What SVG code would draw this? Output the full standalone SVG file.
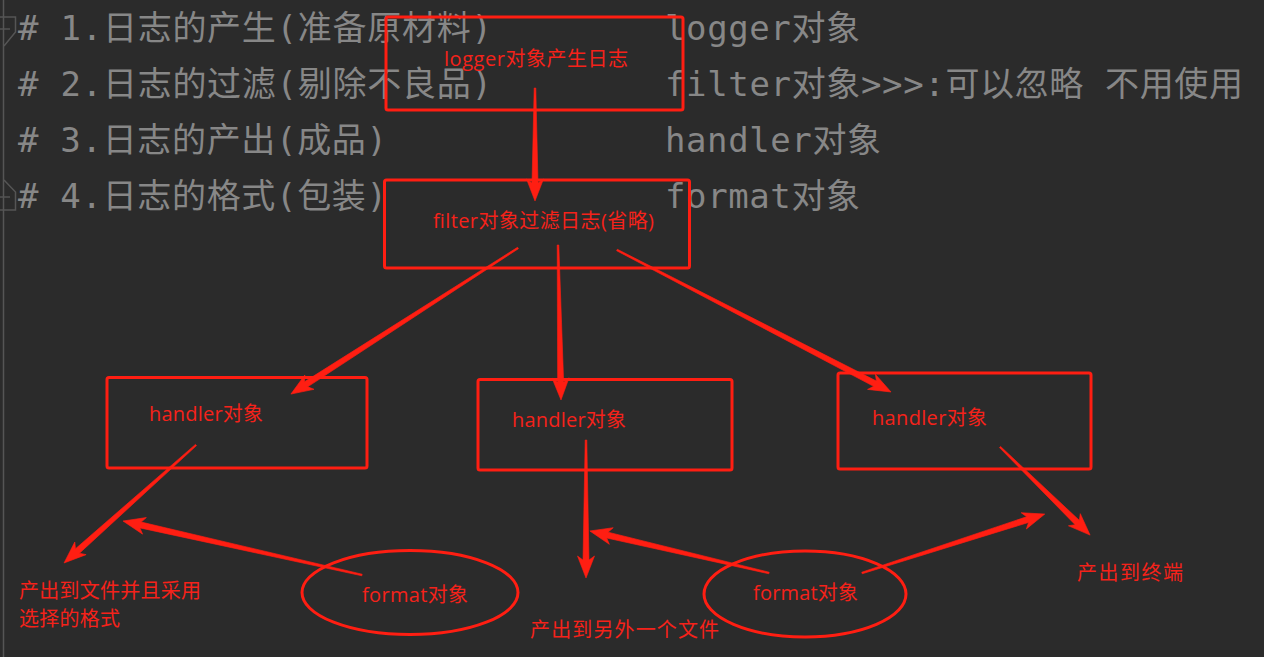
<svg xmlns="http://www.w3.org/2000/svg" width="1264" height="657" viewBox="0 0 1264 657">
<style>
.code{font-family:"DejaVu Sans Mono","Noto Sans CJK SC",monospace;font-size:34px;fill:#878787}
.lbl{font-family:"Open Sans","Noto Sans CJK SC",sans-serif;font-size:20px;fill:#f5221a}
.box{fill:none;stroke:#ff1e12;stroke-width:3}
.arr{fill:#ff1e12;stroke:#ff1e12;stroke-width:0.6;stroke-linejoin:round}
.gut{fill:none;stroke:#555;stroke-width:1.5}
</style>
<rect x="0" y="0" width="1264" height="657" fill="#2b2b2b"/>
<g id="gutter">
<line class="gut" x1="3.5" y1="0" x2="3.5" y2="657"/>
<path class="gut" d="M0,17 H15.5 V32 L4,46"/>
<line class="gut" x1="0" y1="29" x2="10" y2="29"/>
<path class="gut" d="M4,180 L15.5,192 V210 H0"/>
<line class="gut" x1="0" y1="197" x2="10" y2="197"/>
</g>
<g id="code">
<text class="code" x="18" y="40" textLength="474">
# 1.日志的产生(准备原材料)</text>
<text class="code" x="18" y="96" textLength="474">
# 2.日志的过滤(剔除不良品)</text>
<text class="code" x="18" y="152" textLength="369">
# 3.日志的产出(成品)</text>
<text class="code" x="18" y="208" textLength="369">
# 4.日志的格式(包装)</text>
<text class="code" x="665" y="40" textLength="195">logger对象</text>
<text class="code" x="665" y="96" textLength="578">filter对象&gt;&gt;&gt;:可以忽略 不用使用</text>
<text class="code" x="665" y="152" textLength="216">handler对象</text>
<text class="code" x="665" y="208" textLength="195">format对象</text>
</g>
<g id="connectors">
<path class="arr" transform="translate(535,88) rotate(90)" d="M0,-0.8 L95,-3 L91,-8.5 L113,0 L91,8.5 L95,3 L0,0.8 Z"/>
<path class="arr" transform="translate(518,248) rotate(147.25)" d="M0,-0.8 L252,-3 L248,-8.5 L270,0 L248,8.5 L252,3 L0,0.8 Z"/>
<path class="arr" transform="translate(558,245) rotate(88.89)" d="M0,-0.8 L137,-3 L133,-8.5 L155,0 L133,8.5 L137,3 L0,0.8 Z"/>
<path class="arr" transform="translate(617,250) rotate(27.39)" d="M0,-0.8 L290.6,-3 L286.6,-8.5 L308.6,0 L286.6,8.5 L290.6,3 L0,0.8 Z"/>
<path class="arr" transform="translate(196,445) rotate(138.2)" d="M0,-0.8 L159,-3 L155,-8.5 L177,0 L155,8.5 L159,3 L0,0.8 Z"/>
<path class="arr" transform="translate(586,440) rotate(90)" d="M0,-0.8 L120,-3 L116,-8.5 L138,0 L116,8.5 L120,3 L0,0.8 Z"/>
<path class="arr" transform="translate(1000,447) rotate(44.36)" d="M0,-0.8 L108,-3 L104,-8.5 L126,0 L104,8.5 L108,3 L0,0.8 Z"/>
<path class="arr" transform="translate(362,575) rotate(192.73)" d="M0,-0.8 L227,-3 L223,-8.5 L245,0 L223,8.5 L227,3 L0,0.8 Z"/>
<path class="arr" transform="translate(769,573) rotate(193.2)" d="M0,-0.8 L166,-3 L162,-8.5 L184,0 L162,8.5 L166,3 L0,0.8 Z"/>
<path class="arr" transform="translate(862,573) rotate(-17.87)" d="M0,-0.8 L174,-3 L170,-8.5 L192,0 L170,8.5 L174,3 L0,0.8 Z"/>
</g>
<g id="logger">
<rect class="box" x="386" y="17" width="297" height="93" rx="2"/>
<text class="lbl" x="444" y="66" textLength="184">logger对象产生日志</text>
</g>
<g id="filter">
<rect class="box" x="384.5" y="180" width="305" height="88" rx="2"/>
<text class="lbl" x="433" y="228" textLength="221">filter对象过滤日志(省略)</text>
</g>
<g id="handler1">
<rect class="box" x="107" y="377.5" width="260" height="90.5" rx="2"/>
<text class="lbl" x="149" y="421" textLength="114">handler对象</text>
</g>
<g id="handler2">
<rect class="box" x="478" y="379.5" width="254" height="90.5" rx="2"/>
<text class="lbl" x="512" y="427" textLength="114">handler对象</text>
</g>
<g id="handler3">
<rect class="box" x="838" y="373" width="253" height="96" rx="2"/>
<text class="lbl" x="872" y="425" textLength="115">handler对象</text>
</g>
<g id="format1">
<ellipse class="box" cx="410" cy="592.5" rx="108" ry="42"/>
<text class="lbl" x="362" y="602" textLength="106">format对象</text>
</g>
<g id="format2">
<ellipse class="box" cx="805" cy="594" rx="101" ry="43"/>
<text class="lbl" x="753" y="600" textLength="105">format对象</text>
</g>
<g id="out-file">
<text class="lbl" x="19" y="598" textLength="182">产出到文件并且采用</text>
<text class="lbl" x="19" y="626" textLength="101">选择的格式</text>
</g>
<g id="out-file2">
<text class="lbl" x="530" y="637" textLength="189">产出到另外一个文件</text>
</g>
<g id="out-terminal">
<text class="lbl" x="1077" y="580" textLength="106">产出到终端</text>
</g>
</svg>
